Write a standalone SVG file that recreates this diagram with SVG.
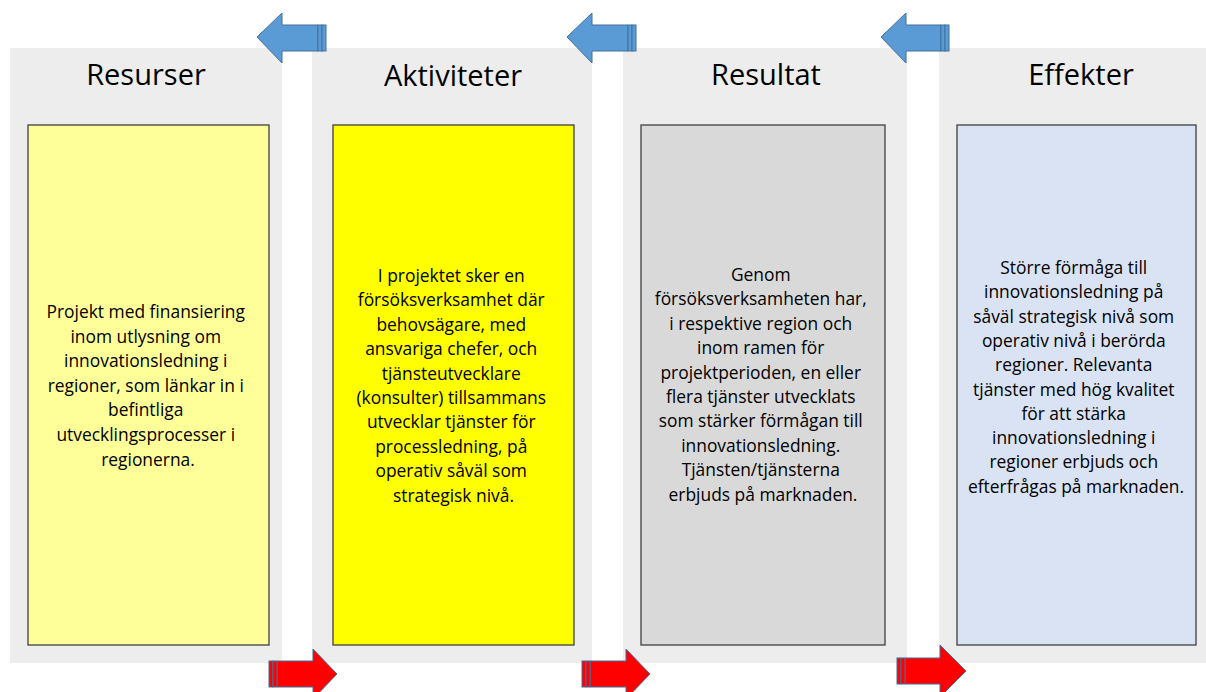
<svg xmlns="http://www.w3.org/2000/svg" width="1206" height="692" viewBox="0 0 1206 692">
<style>
.panel{fill:#EDEDED}
.box{stroke:#3F3F3F;stroke-width:1.3}
.title{font-family:"Open Sans","Liberation Sans",sans-serif;font-size:29px;fill:#000;text-anchor:middle}
.body{font-family:"Open Sans","Liberation Sans",sans-serif;font-size:17.4px;fill:#000;text-anchor:middle}
.blue{fill:#5B9BD5;stroke:#41719C;stroke-width:1}
.red{fill:#FF0000;stroke:#41719C;stroke-width:1}
</style>
<rect width="1206" height="692" fill="#FFFFFF"/>
<g id="col-resurser">
<rect class="panel" x="10" y="48" width="272" height="615"/>
<text class="title" x="146" y="85">Resurser</text>
<rect class="box" x="28" y="125" width="241" height="520" fill="#FFFF99"/>
<text class="body" x="148" y="318">
<tspan x="148" dy="0">Projekt med finansiering</tspan>
<tspan x="148" dy="24.6">inom utlysning om</tspan>
<tspan x="148" dy="24.6">innovationsledning i</tspan>
<tspan x="148" dy="24.6">regioner, som länkar in i</tspan>
<tspan x="148" dy="24.6">befintliga</tspan>
<tspan x="148" dy="24.6">utvecklingsprocesser i</tspan>
<tspan x="148" dy="24.6">regionerna.</tspan>
</text>
</g>
<g id="col-aktiviteter">
<rect class="panel" x="312" y="48" width="280" height="615"/>
<text class="title" x="453" y="86">Aktiviteter</text>
<rect class="box" x="333" y="125" width="241" height="520" fill="#FFFF00"/>
<text class="body" x="453.5" y="282">
<tspan x="453.5" dy="0">I projektet sker en</tspan>
<tspan x="453.5" dy="24.4">försöksverksamhet där</tspan>
<tspan x="453.5" dy="24.4">behovsägare, med</tspan>
<tspan x="453.5" dy="24.4">ansvariga chefer, och</tspan>
<tspan x="453.5" dy="24.4">tjänsteutvecklare</tspan>
<tspan x="453.5" dy="24.4">(konsulter) tillsammans</tspan>
<tspan x="453.5" dy="24.4">utvecklar tjänster för</tspan>
<tspan x="453.5" dy="24.4">processledning, på</tspan>
<tspan x="453.5" dy="24.4">operativ såväl som</tspan>
<tspan x="453.5" dy="24.4">strategisk nivå.</tspan>
</text>
</g>
<g id="col-resultat">
<rect class="panel" x="623" y="48" width="284" height="615"/>
<text class="title" x="766" y="85">Resultat</text>
<rect class="box" x="641" y="125" width="244" height="520" fill="#D9D9D9"/>
<text class="body" x="763" y="281">
<tspan x="763" dy="0">Genom</tspan>
<tspan x="763" dy="24.4">försöksverksamheten har,</tspan>
<tspan x="763" dy="24.4">i respektive region och</tspan>
<tspan x="763" dy="24.4">inom ramen för</tspan>
<tspan x="763" dy="24.4">projektperioden,  en eller</tspan>
<tspan x="763" dy="24.4">flera tjänster utvecklats</tspan>
<tspan x="763" dy="24.4">som stärker förmågan till</tspan>
<tspan x="763" dy="24.4">innovationsledning.</tspan>
<tspan x="763" dy="24.4">Tjänsten/tjänsterna</tspan>
<tspan x="763" dy="24.4">erbjuds på marknaden.</tspan>
</text>
</g>
<g id="col-effekter">
<rect class="panel" x="939" y="48" width="267" height="615"/>
<text class="title" x="1081" y="85">Effekter</text>
<rect class="box" x="957" y="125" width="239" height="520" fill="#DAE3F3"/>
<text class="body" x="1076" y="274">
<tspan x="1076" dy="0">Större förmåga till</tspan>
<tspan x="1076" dy="24.3">innovationsledning på</tspan>
<tspan x="1076" dy="24.3">såväl strategisk nivå som</tspan>
<tspan x="1076" dy="24.3">operativ nivå i berörda</tspan>
<tspan x="1076" dy="24.3">regioner. Relevanta</tspan>
<tspan x="1076" dy="24.3">tjänster med hög kvalitet</tspan>
<tspan x="1076" dy="24.3">för att stärka</tspan>
<tspan x="1076" dy="24.3">innovationsledning i</tspan>
<tspan x="1076" dy="24.3">regioner erbjuds  och</tspan>
<tspan x="1076" dy="24.3">efterfrågas på marknaden.</tspan>
</text>
</g>
<g id="connectors">
<g id="blue-arrow-1">
<polygon class="blue" points="257,37 282,13 282,25 318,25 318,51 282,51 282,63"/>
<rect class="blue" x="318" y="25" width="4" height="26"/>
<rect class="blue" x="322" y="25" width="4" height="26"/>
</g>
<g id="blue-arrow-2">
<polygon class="blue" points="567,37 592,13 592,25 628,25 628,51 592,51 592,63"/>
<rect class="blue" x="628" y="25" width="4" height="26"/>
<rect class="blue" x="632" y="25" width="4" height="26"/>
</g>
<g id="blue-arrow-3">
<polygon class="blue" points="881,37 906,13 906,25 941,25 941,51 906,51 906,63"/>
<rect class="blue" x="941" y="25" width="4" height="26"/>
<rect class="blue" x="945" y="25" width="4" height="26"/>
</g>
<g id="red-arrow-1">
<polygon class="red" points="277,661 313,661 313,649 337,674 313,699 313,687 277,687"/>
<rect class="red" x="269" y="661" width="4" height="26"/>
<rect class="red" x="273" y="661" width="4" height="26"/>
</g>
<g id="red-arrow-2">
<polygon class="red" points="590,661 626,661 626,649 650,674 626,699 626,687 590,687"/>
<rect class="red" x="582" y="661" width="4" height="26"/>
<rect class="red" x="586" y="661" width="4" height="26"/>
</g>
<g id="red-arrow-3">
<polygon class="red" points="905,658 940,658 940,645 966,671 940,697 940,684 905,684"/>
<rect class="red" x="897" y="658" width="4" height="26"/>
<rect class="red" x="901" y="658" width="4" height="26"/>
</g>
</g>
</svg>
